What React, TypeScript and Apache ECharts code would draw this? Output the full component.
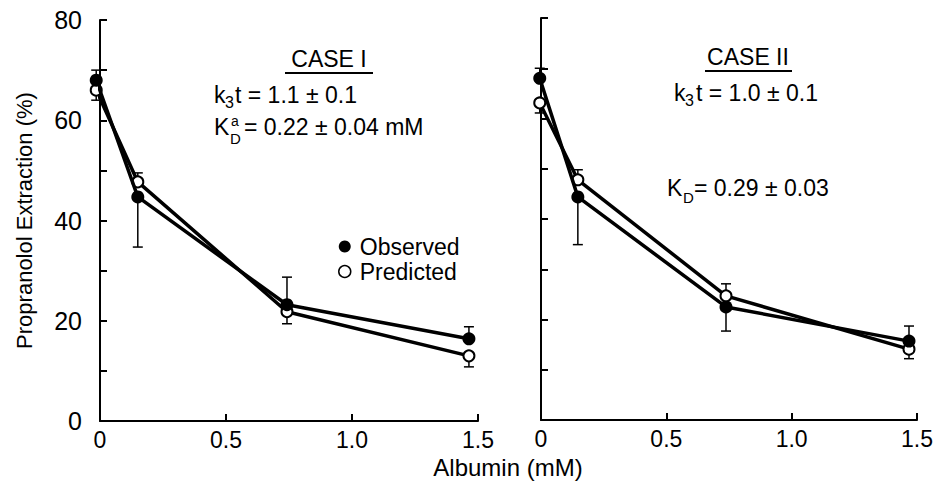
import React, { useEffect, useRef } from "react";
import * as echarts from "echarts";

const FONT = "Liberation Sans, Arial, sans-serif";

// Left panel (CASE I)
const xLeft = [-0.015, 0.15, 0.742, 1.464];
const obsLeft = [68, 44.7, 23.2, 16.4];
const obsLeftErr = [2, -10, 5.5, 2.4];
const predLeft = [66, 47.7, 21.8, 13];
const predLeftErr = [-2, 1.8, -2.4, -2.2];

// Right panel (CASE II)
const xRight = [-0.005, 0.147, 0.738, 1.468];
const obsRight = [68, 44.4, 22.5, 15.7];
const obsRightErr = [2, -9.5, -4.8, 3];
const predRight = [63.1, 47.8, 24.7, 14.1];
const predRightErr = [-2, 2, 2.4, -1.9];

const yMin = 0;
const yMax = 80;
const yInterval = 20;
const xMin = 0;
const xMax = 1.5;
const xInterval = 0.5;

const seriesNames = ["Observed", "Predicted"];

function errRender(params: any, api: any) {
  const x = api.value(0);
  const y = api.value(1);
  const e = api.value(2);
  const p0 = api.coord([x, y]);
  const p1 = api.coord([x, y + e]);
  return {
    type: "group",
    children: [
      { type: "line", shape: { x1: p0[0], y1: p0[1], x2: p1[0], y2: p1[1] }, style: { stroke: "#000", lineWidth: 1.5 } },
      { type: "line", shape: { x1: p1[0] - 5, y1: p1[1], x2: p1[0] + 5, y2: p1[1] }, style: { stroke: "#000", lineWidth: 1.5 } },
    ],
  };
}

function txt(text: string, x: number, y: number, size = 20, align = "left") {
  return {
    type: "text",
    x,
    y,
    silent: true,
    style: { text, fontSize: size, fontFamily: FONT, fill: "#000", align, verticalAlign: "middle" },
  };
}

function hline(x1: number, x2: number, y: number) {
  return { type: "line", silent: true, shape: { x1, y1: y, x2, y2: y }, style: { stroke: "#000", lineWidth: 2 } };
}

export default function App() {
  const ref = useRef<HTMLDivElement>(null);
  useEffect(() => {
    if (!ref.current) return;
    const chart = echarts.init(ref.current, undefined, { renderer: "svg" });

    const xAxisBase = (gridIndex: number) => ({
      type: "value",
      gridIndex,
      min: xMin,
      max: xMax,
      interval: xInterval,
      axisLine: { show: true, lineStyle: { color: "#000", width: 2 } },
      axisTick: { show: true, inside: true, length: 7, lineStyle: { color: "#000", width: 2 } },
      splitLine: { show: false },
      axisLabel: {
        color: "#000",
        fontSize: 23,
        fontFamily: FONT,
        margin: 7,
        formatter: (v: number) => (v === 0 ? "0" : v.toFixed(1)),
      },
    });

    const yAxisBase = (gridIndex: number, showLabels: boolean) => ({
      type: "value",
      gridIndex,
      min: yMin,
      max: yMax,
      interval: yInterval,
      offset: 14,
      axisLine: { show: true, lineStyle: { color: "#000", width: 2 } },
      axisTick: { show: true, inside: true, length: 7, lineStyle: { color: "#000", width: 2 } },
      minorTick: { show: true, splitNumber: 2, length: 7, lineStyle: { color: "#000", width: 2 } },
      splitLine: { show: false },
      axisLabel: { show: showLabels, color: "#000", fontSize: 25, fontFamily: FONT, margin: 4 },
      name: showLabels ? "Propranolol Extraction (%)" : "",
      nameLocation: "middle",
      nameGap: 51,
      nameRotate: 90,
      nameTextStyle: { color: "#000", fontSize: 22, fontFamily: FONT },
    });

    const lineSeries = (name: string, xs: number[], ys: number[], idx: number, filled: boolean) => ({
      type: "line",
      name,
      xAxisIndex: idx,
      yAxisIndex: idx,
      data: xs.map((x, i) => [x, ys[i]]),
      clip: false,
      symbol: "circle",
      symbolSize: filled ? 13 : 11,
      showSymbol: true,
      lineStyle: { color: "#000", width: 3.5 },
      itemStyle: filled
        ? { color: "#000", borderColor: "#000", borderWidth: 0 }
        : { color: "#fff", borderColor: "#000", borderWidth: 2 },
      z: filled ? 4 : 3,
    });

    const errSeries = (xs: number[], ys: number[], es: number[], idx: number) => ({
      type: "custom",
      xAxisIndex: idx,
      yAxisIndex: idx,
      clip: false,
      silent: true,
      renderItem: errRender,
      encode: { x: 0, y: 1 },
      data: xs.map((x, i) => [x, ys[i], es[i]]),
      z: 1,
    });

    chart.setOption({
      animation: false,
      backgroundColor: "#fff",
      grid: [
        { left: 100, top: 20, width: 378, height: 401 },
        { left: 541, top: 18, width: 379, height: 402 },
      ],
      xAxis: [xAxisBase(0), xAxisBase(1)],
      yAxis: [yAxisBase(0, true), yAxisBase(1, false)],
      legend: {
        data: [
          { name: seriesNames[0], itemStyle: { color: "#000", borderWidth: 0 } },
          { name: seriesNames[1], itemStyle: { color: "#fff", borderColor: "#000", borderWidth: 1.5 } },
        ],
        orient: "vertical",
        left: 333,
        top: 230,
        icon: "circle",
        itemWidth: 12,
        itemHeight: 12,
        itemGap: 2,
        selectedMode: false,
        textStyle: { color: "#000", fontSize: 23, fontFamily: FONT, padding: [0, 0, 0, 4] },
      },
      series: [
        errSeries(xLeft, obsLeft, obsLeftErr, 0),
        errSeries(xLeft, predLeft, predLeftErr, 0),
        lineSeries(seriesNames[0], xLeft, obsLeft, 0, true),
        lineSeries(seriesNames[1], xLeft, predLeft, 0, false),
        errSeries(xRight, obsRight, obsRightErr, 1),
        errSeries(xRight, predRight, predRightErr, 1),
        lineSeries(seriesNames[0], xRight, obsRight, 1, true),
        lineSeries(seriesNames[1], xRight, predRight, 1, false),
      ],
      graphic: [
        // CASE I
        txt("CASE I", 329, 59, 23, "center"),
        hline(285, 373, 73),
        txt("k", 214, 95, 23),
        txt("3", 225, 102, 16),
        txt("t = 1.1 ± 0.1", 235, 95, 23),
        txt("K", 214, 127, 23),
        txt("a", 231, 121, 14),
        txt("D", 230, 138, 15),
        txt("= 0.22 ± 0.04 mM", 244, 127, 23),
        // CASE II
        txt("CASE II", 748, 57, 23, "center"),
        hline(705, 792, 71),
        txt("k", 674, 93, 23),
        txt("3", 685, 100, 16),
        txt("t = 1.0 ± 0.1", 696, 93, 23),
        txt("K", 667, 188, 23),
        txt("D", 683, 197, 15),
        txt("= 0.29 ± 0.03", 694, 188, 23),
        // X axis title
        txt("Albumin (mM)", 508, 467, 24, "center"),
      ],
    });

    return () => chart.dispose();
  }, []);

  return (
    <div
      ref={ref}
      style={{ position: "fixed", left: 0, top: 0, width: 936, height: 482, background: "#fff" }}
    />
  );
}
